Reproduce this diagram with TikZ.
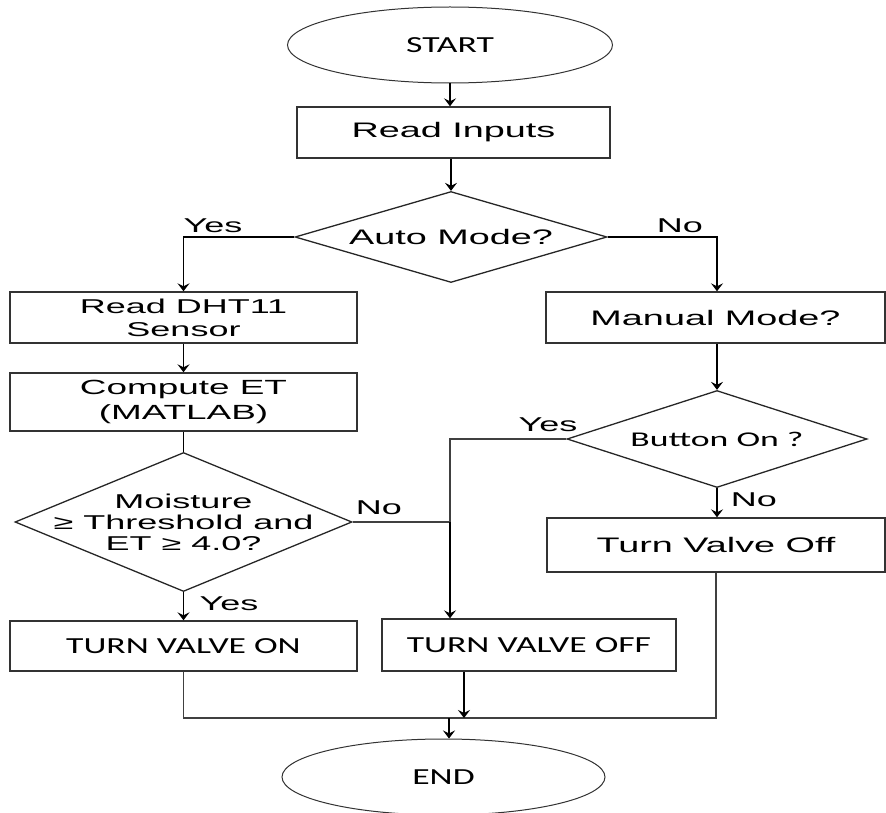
\documentclass[tikz,border=0pt]{standalone}
\usepackage{fontspec}
\setmainfont{Liberation Sans}[FakeStretch=1.8]
\newfontfamily\calib{Carlito}[FakeStretch=1.55]
\newfontfamily\calibw{Carlito}[FakeStretch=1.7]
\usetikzlibrary{arrows.meta,shapes,backgrounds}
\tikzset{
  blk/.style={draw=black!80, line width=1.4pt, rectangle, inner sep=0pt, align=center, font=\fontsize{20}{23}\selectfont},
  dec/.style={draw=black!85, line width=1.3pt, diamond, inner xsep=-40pt, inner ysep=-10pt, align=center},
  term/.style={draw=black!80, line width=1pt, ellipse, inner sep=0pt, font=\calib\fontsize{23}{26}\selectfont},
  lbl/.style={font=\fontsize{20}{24}\selectfont},
  flow/.style={line width=1.5pt, -{Stealth[length=8pt,width=12pt,inset=3pt]}},
  wire/.style={line width=1.1pt, draw=black!75},
}

\begin{document}
\begin{tikzpicture}[x=1pt,y=-1pt]
	\useasboundingbox (0,0) rectangle (886,813);
	\clip (0,0) rectangle (886,813);
	\node [term, minimum width=325pt, minimum height=76pt] (start) at (450,45) {START};
	\node [blk, minimum width=313pt, minimum height=51pt, font=\fontsize{21}{24}\selectfont] (readin) at (453.5,132.5) {Read Inputs};
	\node [dec, minimum width=312pt, minimum height=91pt, aspect=3.4, font=\fontsize{21}{24}\selectfont] (auto) at (451,237) {Auto Mode?};
	\node [blk, minimum width=347pt, minimum height=51pt] (dht) at (183.5,317.5) {Read DHT11\\Sensor};
	\node [blk, minimum width=347pt, minimum height=58pt, font=\fontsize{20.5}{25}\selectfont] (et) at (183.5,402) {Compute ET\\(MATLAB)};
	\node [dec, minimum width=337pt, minimum height=139pt, aspect=2.4, font=\fontsize{20}{21}\selectfont] (moist) at (183.5,522) {Moisture\\≥ Threshold and\\ET ≥ 4.0?};
	\node [blk, minimum width=347pt, minimum height=50pt, font=\calib\fontsize{23}{26}\selectfont] (von) at (183.5,646) {TURN VALVE ON};
	\node [blk, minimum width=339pt, minimum height=51pt, font=\fontsize{21}{24}\selectfont] (manual) at (715.5,317.5) {Manual Mode?};
	\node [dec, minimum width=300pt, minimum height=97pt, aspect=3.1, font=\calibw\fontsize{21}{24}\selectfont] (btn) at (717,439) {Button On ?};
	\node [blk, minimum width=338pt, minimum height=54pt, font=\fontsize{21}{25}\selectfont] (toff) at (716,545) {Turn Valve Off};
	\node [blk, minimum width=294pt, minimum height=52pt, font=\calib\fontsize{23}{26}\selectfont] (voff) at (529,645) {TURN VALVE OFF};
	\node [term, minimum width=323pt, minimum height=76pt] (end) at (443.5,777) {END};
	\coordinate (jn) at (450,522);
	\coordinate (mg) at (449,718);
	\coordinate (dn) at (464,718);
	\draw [flow] (start) -- (start |- readin.north);
	\draw [flow] (auto.north |- readin.south) -- (auto.north);
	\draw [flow] (auto.west) -| (dht.north);
	\node [lbl] (ya) at (213,226) {Yes};
	\draw [flow] (auto.east) -| (btn.north |- manual.north);
	\node [lbl] (na) at (680,226) {No};
	\draw [flow] (dht) -- (et);
	\draw [line width=1.4pt] (et) -- (moist);
	\draw [flow] (moist) -- (von);
	\node [lbl] (ym) at (229,604) {Yes};
	\draw [wire] (moist.east) -- (jn);
	\node [lbl] (nm) at (379,508) {No};
	\draw [wire] (btn.west) -| (jn);
	\node [lbl] (yb) at (548,425) {Yes};
	\draw [flow, line width=2pt] (jn) -- (jn |- voff.north);
	\draw [flow] (btn.north |- manual.south) -- (btn.north);
	\draw [flow] (btn.south) -- (btn.south |- toff.north);
	\node [lbl] (nb) at (754,500) {No};
	\draw [wire] (von.south) |- (mg) -| (toff.south);
	\draw [flow] (dn |- voff.south) -- (dn);
	\draw [flow, line width=2.8pt] (mg) -- (mg |- end.north);
\end{tikzpicture}
\end{document}
